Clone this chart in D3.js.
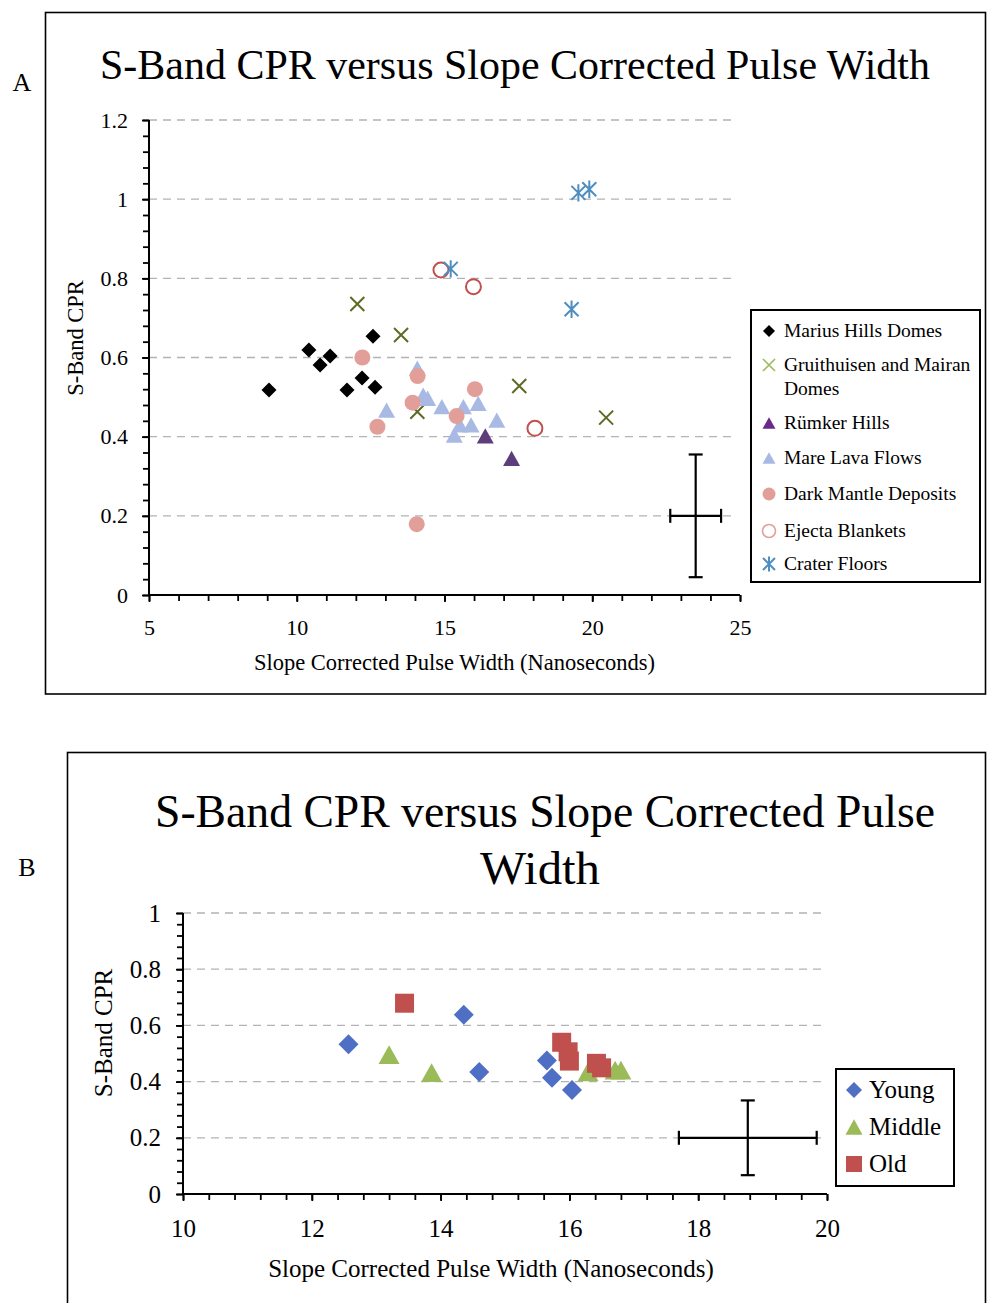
<!DOCTYPE html>
<html>
<head>
<meta charset="utf-8">
<script src="https://cdn.jsdelivr.net/npm/d3@7"></script>
<style>
  body { margin: 0; background: #fff; }
  svg text { font-family: "Liberation Serif", "DejaVu Serif", serif; fill: #000; }
</style>
</head>
<body>
<svg id="chart" width="987" height="1303"></svg>
<script>
// ---- Panel A: S-Band CPR vs slope corrected pulse width, by feature type ----
const mariusHills = [[9.06,0.518],[10.41,0.619],[10.79,0.581],[11.13,0.604],[11.70,0.518],[12.21,0.548],[12.58,0.654],[12.65,0.525]];
const gruithuisenMairan = [[12.05,0.735],[13.53,0.657],[14.08,0.463],[17.53,0.528],[20.47,0.448]];
const rumkerHills = [[16.38,0.402],[17.27,0.345]];
const mareLava = [[13.04,0.467],[14.08,0.573],[14.28,0.505],[14.43,0.497],[14.91,0.476],[15.64,0.476],[16.14,0.484],[15.33,0.404],[15.52,0.430],[15.90,0.430],[16.77,0.442]];
const darkMantle = [[12.22,0.600],[14.09,0.553],[13.92,0.486],[12.73,0.425],[14.06,0.179],[16.03,0.520],[15.41,0.452]];
const ejectaBlankets = [[14.88,0.821],[15.98,0.779],[18.06,0.421]];
const craterFloors = [[15.21,0.824],[19.53,1.016],[19.90,1.025],[19.30,0.722]];
const errorA = { x: 23.5, y: 0.2, dx: 0.86, dy: 0.155 };
const xTicksA = [5, 10, 15, 20, 25];
const yTicksA = [0, 0.2, 0.4, 0.6, 0.8, 1, 1.2];

// ---- Panel B: same measure, domes grouped by age ----
const young = [[12.57,0.533],[14.36,0.638],[14.60,0.434],[15.65,0.475],[15.73,0.414],[16.04,0.370]];
const middle = [[13.20,0.496],[13.86,0.432],[16.29,0.435],[16.71,0.441],[16.80,0.441]];
const old = [[13.44,0.679],[15.88,0.540],[15.98,0.506],[16.00,0.473],[16.42,0.465],[16.50,0.449]];
const errorB = { x: 18.77, y: 0.2, dx: 1.07, dy: 0.133 };
const xTicksB = [10, 12, 14, 16, 18, 20];
const yTicksB = [0, 0.2, 0.4, 0.6, 0.8, 1];

const svg = d3.select("#chart");

// marker path builders (size = full width in px)
const shapes = {
  diamond: s => `M0,${-s/2}L${s/2},0L0,${s/2}L${-s/2},0Z`,
  triangle: s => `M0,${-s*0.45}L${s/2},${s*0.45}L${-s/2},${s*0.45}Z`,
  square: s => `M${-s/2},${-s/2}h${s}v${s}h${-s}Z`,
  circle: s => `M${s/2},0A${s/2},${s/2} 0 1,1 ${-s/2},0A${s/2},${s/2} 0 1,1 ${s/2},0Z`,
  cross: s => `M${-s/2},${-s/2}L${s/2},${s/2}M${s/2},${-s/2}L${-s/2},${s/2}`,
  star: s => `M${-s/2},${-s/2}L${s/2},${s/2}M${s/2},${-s/2}L${-s/2},${s/2}M0,${-s*0.62}L0,${s*0.62}`
};

function drawMarker(g, shape, size, style) {
  const p = g.append("path").attr("d", shapes[shape](size));
  if (style.fill) p.attr("fill", style.fill); else p.attr("fill", "none");
  if (style.stroke) p.attr("stroke", style.stroke).attr("stroke-width", style.sw || 1.5);
  return p;
}

function range(a, b, step) {
  const out = [];
  for (let v = a; v <= b + 1e-9; v += step) out.push(+v.toFixed(4));
  return out;
}

function panel(cfg) {
  const x = d3.scaleLinear().domain(cfg.xDomain).range([cfg.left, cfg.right]);
  const y = d3.scaleLinear().domain(cfg.yDomain).range([cfg.bottom, cfg.top]);
  const g = svg.append("g");

  // dashed horizontal gridlines
  g.append("g").selectAll("line").data(cfg.yTicks.filter(v => v > 0)).join("line")
    .attr("x1", cfg.left).attr("x2", cfg.gridEnd)
    .attr("y1", d => y(d)).attr("y2", d => y(d))
    .attr("stroke", "#b3b3b3").attr("stroke-width", 1.3).attr("stroke-dasharray", "8,6");

  // y axis: minor ticks then labelled major ticks
  const yMinor = g.append("g").attr("transform", `translate(${cfg.left},0)`)
    .call(d3.axisLeft(y).tickValues(range(cfg.yDomain[0], cfg.yDomain[1], cfg.yMinor)).tickSize(6).tickFormat(""));
  const yMajor = g.append("g").attr("transform", `translate(${cfg.left},0)`)
    .call(d3.axisLeft(y).tickValues(cfg.yTicks).tickSize(7).tickPadding(cfg.tickPad).tickFormat(d3.format("")));
  // x axis
  const xMinor = g.append("g").attr("transform", `translate(0,${cfg.bottom})`)
    .call(d3.axisBottom(x).tickValues(range(cfg.xDomain[0], cfg.xDomain[1], cfg.xMinor)).tickSize(6).tickFormat(""));
  const xMajor = g.append("g").attr("transform", `translate(0,${cfg.bottom})`)
    .call(d3.axisBottom(x).tickValues(cfg.xTicks).tickSize(7).tickPadding(cfg.tickPadX).tickFormat(d3.format("")));

  [yMinor, yMajor, xMinor, xMajor].forEach(a => {
    a.select(".domain").attr("stroke", "#000").attr("stroke-width", 2);
    a.selectAll(".tick line").attr("stroke", "#000").attr("stroke-width", 1.8);
    a.selectAll(".tick text").attr("font-size", cfg.tickFont)
      .attr("font-family", '"Liberation Serif", serif').attr("fill", "#000");
  });
  // plain axis lines without end caps
  [yMinor, yMajor].forEach(a => a.select(".domain").attr("d", `M0,${cfg.bottom}V${cfg.top}`));
  [xMinor, xMajor].forEach(a => a.select(".domain").attr("d", `M${cfg.left},0H${cfg.right}`));

  // error cross
  const e = cfg.err, eg = g.append("g").attr("stroke", "#000").attr("stroke-width", 2.2);
  const cap = 7;
  eg.append("line").attr("x1", x(e.x - e.dx)).attr("x2", x(e.x + e.dx)).attr("y1", y(e.y)).attr("y2", y(e.y));
  eg.append("line").attr("x1", x(e.x)).attr("x2", x(e.x)).attr("y1", y(e.y - e.dy)).attr("y2", y(e.y + e.dy));
  [e.x - e.dx, e.x + e.dx].forEach(v => eg.append("line").attr("x1", x(v)).attr("x2", x(v)).attr("y1", y(e.y) - cap).attr("y2", y(e.y) + cap));
  [e.y - e.dy, e.y + e.dy].forEach(v => eg.append("line").attr("x1", x(e.x) - cap).attr("x2", x(e.x) + cap).attr("y1", y(v)).attr("y2", y(v)));

  // series
  cfg.series.forEach(s => {
    const sg = g.append("g");
    s.data.forEach(d => {
      const m = drawMarker(sg, s.shape, s.size, s.style);
      m.attr("transform", `translate(${x(d[0])},${y(d[1])})`);
    });
  });

  // axis titles
  g.append("text").attr("x", (cfg.left + cfg.right) / 2 + cfg.xTitleShift).attr("y", cfg.xTitleY)
    .attr("text-anchor", "middle").attr("font-size", cfg.titleFont).text("Slope Corrected Pulse Width (Nanoseconds)");
  g.append("text").attr("transform", `translate(${cfg.yTitleX},${cfg.yTitleY}) rotate(-90)`)
    .attr("text-anchor", "middle").attr("font-size", cfg.titleFont).text("S-Band CPR");

  // legend
  const L = cfg.legend;
  const lg = g.append("g");
  lg.append("rect").attr("x", L.x).attr("y", L.y).attr("width", L.w).attr("height", L.h)
    .attr("fill", "#fff").attr("stroke", "#000").attr("stroke-width", 2);
  L.items.forEach(it => {
    const mg = lg.append("g").attr("transform", `translate(${L.x + L.markX},${it.y})`);
    drawMarker(mg, it.shape, it.size, it.style);
    it.lines.forEach((t, i) => {
      lg.append("text").attr("x", L.x + L.textX).attr("y", it.y + i * L.lineGap + L.font * 0.33)
        .attr("font-size", L.font).text(t);
    });
  });
  return g;
}

// frames and panel letters
svg.append("rect").attr("x", 45.5).attr("y", 12.5).attr("width", 940).attr("height", 681.5)
  .attr("fill", "none").attr("stroke", "#000").attr("stroke-width", 1.6);
svg.append("rect").attr("x", 67.5).attr("y", 752.5).attr("width", 918).attr("height", 600)
  .attr("fill", "none").attr("stroke", "#000").attr("stroke-width", 1.6);
svg.append("text").attr("x", 22).attr("y", 91).attr("text-anchor", "middle").attr("font-size", 26).text("A");
svg.append("text").attr("x", 27).attr("y", 876).attr("text-anchor", "middle").attr("font-size", 26).text("B");

// chart titles
svg.append("text").attr("x", 515).attr("y", 79).attr("text-anchor", "middle").attr("font-size", 42)
  .attr("textLength", 830).attr("lengthAdjust", "spacingAndGlyphs")
  .text("S-Band CPR versus Slope Corrected Pulse Width");
svg.append("text").attr("x", 545).attr("y", 827).attr("text-anchor", "middle").attr("font-size", 46)
  .attr("textLength", 780).attr("lengthAdjust", "spacingAndGlyphs")
  .text("S-Band CPR versus Slope Corrected Pulse");
svg.append("text").attr("x", 540).attr("y", 884).attr("text-anchor", "middle").attr("font-size", 46)
  .attr("textLength", 120).attr("lengthAdjust", "spacingAndGlyphs")
  .text("Width");

const cA = {
  marius: { fill: "#000" },
  gruit: { stroke: "#5c6b23", sw: 2 },
  gruitLeg: { stroke: "#9bbb59", sw: 1.6 },
  rumker: { fill: "#5e3d7d" },
  rumkerLeg: { fill: "#6a2a8a" },
  mare: { fill: "#a8bae3" },
  mantle: { fill: "#e29f99" },
  ejecta: { stroke: "#c0504d", sw: 2 },
  ejectaLeg: { stroke: "#e29f99", sw: 1.6 },
  crater: { stroke: "#4f8ec0", sw: 2 }
};

panel({
  xDomain: [5, 25], yDomain: [0, 1.2],
  left: 149, right: 740, top: 120, bottom: 595, gridEnd: 737,
  xTicks: xTicksA, yTicks: yTicksA, xMinor: 1, yMinor: 0.04,
  tickFont: 22, tickPad: 14, tickPadX: 17,
  titleFont: 22.5, xTitleY: 670, xTitleShift: 10, yTitleX: 83, yTitleY: 338,
  err: errorA,
  series: [
    { data: mariusHills, shape: "diamond", size: 15, style: cA.marius },
    { data: gruithuisenMairan, shape: "cross", size: 14, style: cA.gruit },
    { data: rumkerHills, shape: "triangle", size: 17, style: cA.rumker },
    { data: mareLava, shape: "triangle", size: 17, style: cA.mare },
    { data: darkMantle, shape: "circle", size: 16, style: cA.mantle },
    { data: ejectaBlankets, shape: "circle", size: 15, style: cA.ejecta },
    { data: craterFloors, shape: "star", size: 14, style: cA.crater }
  ],
  legend: {
    x: 751, y: 310, w: 229, h: 272, markX: 18, textX: 33, font: 19.5, lineGap: 24,
    items: [
      { lines: ["Marius Hills Domes"], y: 331, shape: "diamond", size: 12, style: cA.marius },
      { lines: ["Gruithuisen and Mairan", "Domes"], y: 365, shape: "cross", size: 12, style: cA.gruitLeg },
      { lines: ["Rümker Hills"], y: 423, shape: "triangle", size: 13, style: cA.rumkerLeg },
      { lines: ["Mare Lava Flows"], y: 458, shape: "triangle", size: 13, style: cA.mare },
      { lines: ["Dark Mantle Deposits"], y: 494, shape: "circle", size: 13, style: cA.mantle },
      { lines: ["Ejecta Blankets"], y: 531, shape: "circle", size: 13, style: cA.ejectaLeg },
      { lines: ["Crater Floors"], y: 564, shape: "star", size: 12, style: cA.crater }
    ]
  }
});

const cB = { young: { fill: "#4f6fc4" }, middle: { fill: "#9bbb59" }, old: { fill: "#c0504d" } };

panel({
  xDomain: [10, 20], yDomain: [0, 1],
  left: 183, right: 827, top: 913, bottom: 1194, gridEnd: 825,
  xTicks: xTicksB, yTicks: yTicksB, xMinor: 0.4, yMinor: 0.04,
  tickFont: 25, tickPad: 15, tickPadX: 18,
  titleFont: 25, xTitleY: 1277, xTitleShift: -14, yTitleX: 112, yTitleY: 1033,
  err: errorB,
  series: [
    { data: young, shape: "diamond", size: 20, style: cB.young },
    { data: middle, shape: "triangle", size: 21, style: cB.middle },
    { data: old, shape: "square", size: 19, style: cB.old }
  ],
  legend: {
    x: 836, y: 1069, w: 118, h: 117, markX: 18, textX: 33, font: 25, lineGap: 30,
    items: [
      { lines: ["Young"], y: 1090, shape: "diamond", size: 16, style: cB.young },
      { lines: ["Middle"], y: 1127, shape: "triangle", size: 17, style: cB.middle },
      { lines: ["Old"], y: 1164, shape: "square", size: 16, style: cB.old }
    ]
  }
});
</script>
</body>
</html>
